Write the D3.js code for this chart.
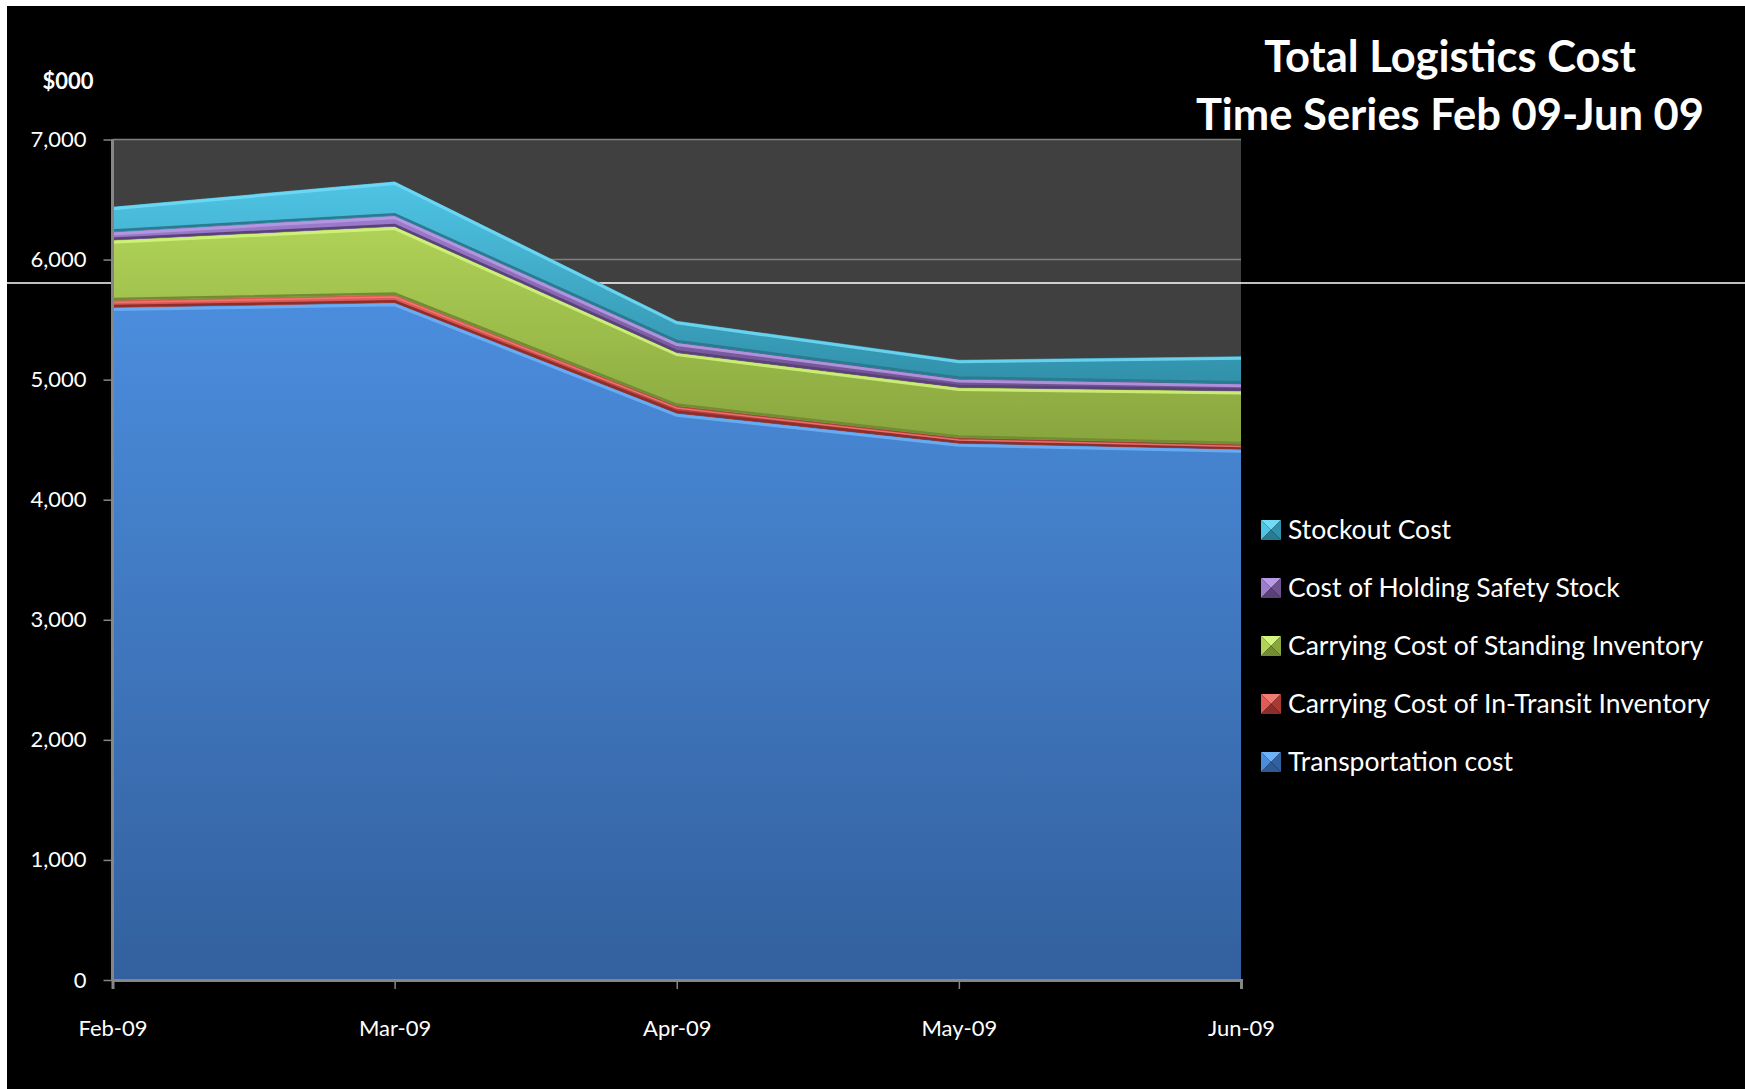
<!DOCTYPE html>
<html>
<head>
<meta charset="utf-8">
<title>Total Logistics Cost</title>
<script src="https://cdn.jsdelivr.net/npm/d3@7"></script>
<style>
    body { margin: 0; background: #fff; }
    text { font-family: Lato, "Open Sans", sans-serif; fill: #fff; }
</style>
</head>
<body>
<script>
    // values, $000
    var months = ['Feb-09', 'Mar-09', 'Apr-09', 'May-09', 'Jun-09'];
    var transportation = [5600, 5640, 4720, 4470, 4420];
    var inTransit = [60, 65, 60, 45, 40];
    var standing = [500, 570, 445, 420, 445];
    var safetyStock = [70, 90, 85, 70, 60];
    var stockout = [210, 285, 180, 160, 230];
    var yTicks = [0, 1000, 2000, 3000, 4000, 5000, 6000, 7000];
    var keys = ['transportation', 'inTransit', 'standing', 'safetyStock', 'stockout'];
    var names = ['Transportation cost', 'Carrying Cost of In-Transit Inventory',
        'Carrying Cost of Standing Inventory', 'Cost of Holding Safety Stock', 'Stockout Cost'];
    var refLine = 5805;

    var colors = {
        transportation: { top: '#4b8ddd', bottom: '#33609e', light: '#6eb2f7', dark: '#2f5a94' },
        inTransit: { top: '#e05a56', bottom: '#a83935', light: '#f27a74', dark: '#8c2f2c' },
        standing: { top: '#afd257', bottom: '#88a53e', light: '#d2f67e', dark: '#738c34' },
        safetyStock: { top: '#9c7dce', bottom: '#6e5290', light: '#b99ae6', dark: '#5a4278' },
        stockout: { top: '#4fc4e4', bottom: '#3190aa', light: '#72dbf6', dark: '#2a7a90' }
    };

    var rows = months.map(function(m, i) {
        return {
            month: m,
            transportation: transportation[i],
            inTransit: inTransit[i],
            standing: standing[i],
            safetyStock: safetyStock[i],
            stockout: stockout[i]
        };
    });

    var W = 1745, H = 1089;
    var plotL = 112.5, plotR = 1241, plotT = 139.5, plotB = 980;

    var svg = d3.select('body').append('svg')
        .attr('width', W)
        .attr('height', H)
        .style('display', 'block');

    // white strip on top and left, as in the picture
    svg.append('rect')
        .attr('x', 7).attr('y', 6)
        .attr('width', W - 7).attr('height', H - 6)
        .attr('fill', '#000');

    var x = d3.scalePoint().domain(months).range([plotL, plotR]);
    var y = d3.scaleLinear().domain([0, 7000]).range([plotB, plotT]);

    var defs = svg.append('defs');
    keys.forEach(function(k) {
        var g = defs.append('linearGradient')
            .attr('id', 'g-' + k)
            .attr('x1', 0).attr('y1', 0).attr('x2', 0).attr('y2', 1);
        g.append('stop').attr('offset', '0%').attr('stop-color', colors[k].top);
        g.append('stop').attr('offset', '100%').attr('stop-color', colors[k].bottom);
    });

    svg.append('rect')
        .attr('x', plotL).attr('y', plotT)
        .attr('width', plotR - plotL).attr('height', plotB - plotT)
        .attr('fill', '#404040');

    svg.append('g')
        .selectAll('line')
        .data(yTicks.slice(1)).enter()
        .append('line')
        .attr('x1', plotL).attr('x2', plotR)
        .attr('y1', function(d) { return y(d); })
        .attr('y2', function(d) { return y(d); })
        .attr('stroke', '#808080')
        .attr('stroke-width', 1.5);

    svg.append('line')
        .attr('x1', 7).attr('x2', W)
        .attr('y1', y(refLine)).attr('y2', y(refLine))
        .attr('stroke', '#fff')
        .attr('stroke-width', 1.3);

    var stacked = d3.stack().keys(keys)(rows);

    var area = d3.area()
        .x(function(d) { return x(d.data.month); })
        .y0(function(d) { return y(d[0]); })
        .y1(function(d) { return y(d[1]); });

    var layers = svg.append('g').selectAll('g')
        .data(stacked).enter()
        .append('g');

    layers.append('path')
        .attr('d', area)
        .attr('fill', function(d) { return 'url(#g-' + d.key + ')'; });

    // fake bevel: dark band along the bottom, light band along the top
    layers.filter(function(d) { return d.key !== 'transportation'; })
        .append('path')
        .attr('d', d3.line()
            .x(function(d) { return x(d.data.month); })
            .y(function(d) { return y(d[0]) - 1.5; }))
        .attr('fill', 'none')
        .attr('stroke', function(d) { return colors[d.key].dark; })
        .attr('stroke-width', 2.5);

    layers.append('path')
        .attr('d', d3.line()
            .x(function(d) { return x(d.data.month); })
            .y(function(d) { return y(d[1]) + 2; }))
        .attr('fill', 'none')
        .attr('stroke', function(d) { return colors[d.key].light; })
        .attr('stroke-width', function(d) { return d.key === 'inTransit' ? 1.5 : 3; })
        .attr('stroke-opacity', 0.85);

    var yax = d3.axisLeft(y)
        .tickValues(yTicks)
        .tickSize(9)
        .tickPadding(17)
        .tickFormat(d3.format(','));

    var xax = d3.axisBottom(x)
        .tickSize(9)
        .tickPadding(31);

    var gy = svg.append('g')
        .attr('transform', 'translate(' + plotL + ',0)')
        .call(yax);

    var gx = svg.append('g')
        .attr('transform', 'translate(0,' + plotB + ')')
        .call(xax);

    [gx, gy].forEach(function(g) {
        g.select('.domain').attr('stroke', '#868686').attr('stroke-width', 3);
        g.selectAll('.tick line').attr('stroke', '#868686').attr('stroke-width', 1.5);
        g.selectAll('.tick text')
            .attr('fill', '#fff')
            .style('font-family', 'Lato, sans-serif')
            .style('font-size', '22px');
    });
    gy.select('.domain').attr('d', 'M0,' + plotT + 'V' + plotB);

    svg.append('text')
        .attr('x', 68).attr('y', 89)
        .attr('text-anchor', 'middle')
        .style('font-size', '22px')
        .style('font-weight', 'bold')
        .text('$000');

    var title = svg.append('text')
        .attr('text-anchor', 'middle')
        .style('font-size', '43.5px')
        .style('font-weight', 'bold');
    title.append('tspan').attr('x', 1450).attr('y', 72).text('Total Logistics Cost');
    title.append('tspan').attr('x', 1450).attr('y', 130).text('Time Series Feb 09-Jun 09');

    // legend, top to bottom = top layer first
    var legendKeys = keys.slice().reverse();
    var legendNames = names.slice().reverse();
    var s = 20;
    var legend = svg.append('g')
        .selectAll('g')
        .data(legendKeys).enter()
        .append('g')
        .attr('transform', function(d, i) { return 'translate(1261,' + (520 + i * 58) + ')'; });

    var bevel = [
        { pts: [[0, 0], [s, 0], [s / 2, s / 2]], c: 'light' },
        { pts: [[0, 0], [0, s], [s / 2, s / 2]], c: 'top' },
        { pts: [[s, 0], [s, s], [s / 2, s / 2]], c: 'bottom' },
        { pts: [[0, s], [s, s], [s / 2, s / 2]], c: 'dark' }
    ];
    legend.each(function(k) {
        d3.select(this).selectAll('path')
            .data(bevel).enter()
            .append('path')
            .attr('d', function(b) { return 'M' + b.pts.join('L') + 'Z'; })
            .attr('fill', function(b) { return colors[k][b.c]; });
    });

    legend.append('text')
        .attr('x', 27)
        .attr('y', 19)
        .style('font-size', '26.5px')
        .text(function(d, i) { return legendNames[i]; });
</script>
</body>
</html>
